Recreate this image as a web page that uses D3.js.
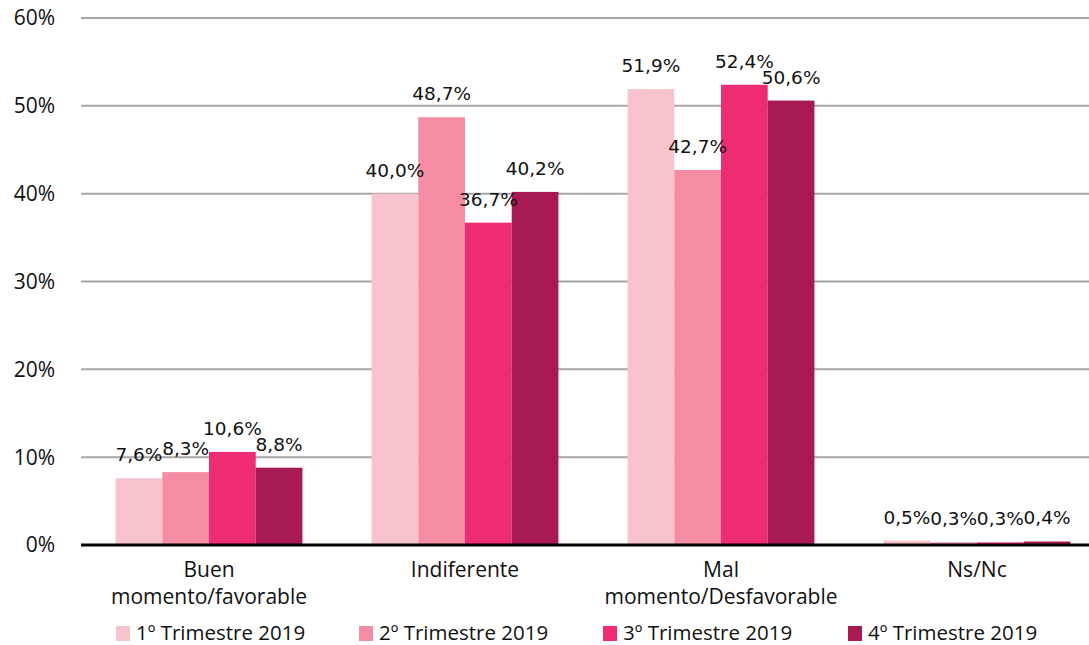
<!DOCTYPE html>
<html>
<head>
<meta charset="utf-8">
<script src="https://cdn.jsdelivr.net/npm/d3@7"></script>
<style>
  body { margin: 0; background: #fff; }
  svg { display: block; }
</style>
</head>
<body>
<div id="chart"></div>
<script>
// Data
const categories = [["Buen", "momento/favorable"], ["Indiferente"], ["Mal", "momento/Desfavorable"], ["Ns/Nc"]];
const series = ["1º Trimestre 2019", "2º Trimestre 2019", "3º Trimestre 2019", "4º Trimestre 2019"];
const q1 = [7.6, 40.0, 51.9, 0.5];
const q2 = [8.3, 48.7, 42.7, 0.3];
const q3 = [10.6, 36.7, 52.4, 0.3];
const q4 = [8.8, 40.2, 50.6, 0.4];
const yTicks = [0, 10, 20, 30, 40, 50, 60];

const colors = ["#f7c3cc", "#f48ca3", "#ee2c74", "#a81b52"];
const values = [q1, q2, q3, q4];

const W = 1089, H = 645;
const margin = {top: 18, left: 81};

const svg = d3.select("#chart").append("svg")
    .attr("width", W)
    .attr("height", H);

const y = d3.scaleLinear().domain([0, 60]).range([545, margin.top]);

// category band, runs a bit past the right edge like the original
const x0 = d3.scaleBand()
    .domain(d3.range(categories.length))
    .range([margin.left, margin.left + 1024])
    .paddingInner(0.27)
    .paddingOuter(0.135);
const x1 = d3.scaleBand()
    .domain(d3.range(series.length))
    .range([0, x0.bandwidth()]);

// gridlines
svg.append("g")
  .selectAll("line")
  .data(yTicks.filter(d => d > 0))
  .enter().append("line")
    .attr("x1", margin.left)
    .attr("x2", W)
    .attr("y1", d => y(d))
    .attr("y2", d => y(d))
    .attr("stroke", "#a6a6a6")
    .attr("stroke-width", 2);

// y tick labels
svg.append("g")
  .selectAll("text")
  .data(yTicks)
  .enter().append("text")
    .attr("x", 55)
    .attr("y", d => y(d))
    .attr("dy", "0.35em")
    .attr("text-anchor", "end")
    .style("font-family", "'Open Sans', sans-serif")
    .style("font-size", "21px")
    .attr("fill", "#111")
    .text(d => d + "%");

// bars
const groups = svg.append("g")
  .selectAll("g")
  .data(categories.map((c, i) => i))
  .enter().append("g")
    .attr("transform", i => `translate(${x0(i)},0)`);

groups.selectAll("rect")
  .data(i => values.map((v, s) => ({s: s, v: v[i]})))
  .enter().append("rect")
    .attr("x", d => x1(d.s))
    .attr("y", d => y(d.v))
    .attr("width", x1.bandwidth())
    .attr("height", d => y(0) - y(d.v))
    .attr("fill", d => colors[d.s]);

// value labels
groups.selectAll("text")
  .data(i => values.map((v, s) => ({s: s, v: v[i]})))
  .enter().append("text")
    .attr("x", d => x1(d.s) + x1.bandwidth() / 2)
    .attr("y", d => y(d.v) - 17)
    .attr("text-anchor", "middle")
    .style("font-family", "'DejaVu Sans', Verdana, sans-serif")
    .style("font-size", "18.5px")
    .attr("fill", "#111")
    .text(d => d.v.toFixed(1).replace(".", ",") + "%");

// zero axis line
svg.append("line")
    .attr("x1", margin.left)
    .attr("x2", W)
    .attr("y1", y(0))
    .attr("y2", y(0))
    .attr("stroke", "#000")
    .attr("stroke-width", 3);

// category labels
const catLabels = svg.append("g")
  .selectAll("text")
  .data(categories)
  .enter().append("text")
    .attr("text-anchor", "middle")
    .style("font-family", "'Open Sans', sans-serif")
    .style("font-size", "21px")
    .attr("fill", "#111")
    .attr("transform", (d, i) => `translate(${x0(i) + x0.bandwidth() / 2},577)`);
catLabels.selectAll("tspan")
  .data(d => d)
  .enter().append("tspan")
    .attr("x", 0)
    .attr("dy", (d, i) => i === 0 ? 0 : 27)
    .text(d => d);

// legend
const legendX = [116, 359, 603, 848];
const legend = svg.append("g")
  .selectAll("g")
  .data(series)
  .enter().append("g")
    .attr("transform", (d, i) => `translate(${legendX[i]},626)`);
legend.append("rect")
    .attr("x", 0)
    .attr("y", 0)
    .attr("width", 14)
    .attr("height", 15)
    .attr("fill", (d, i) => colors[i]);
legend.append("text")
    .attr("x", 20)
    .attr("y", 14)
    .style("font-family", "'Open Sans', sans-serif")
    .style("font-size", "20.5px")
    .attr("fill", "#111")
    .text(d => d);
</script>
</body>
</html>
